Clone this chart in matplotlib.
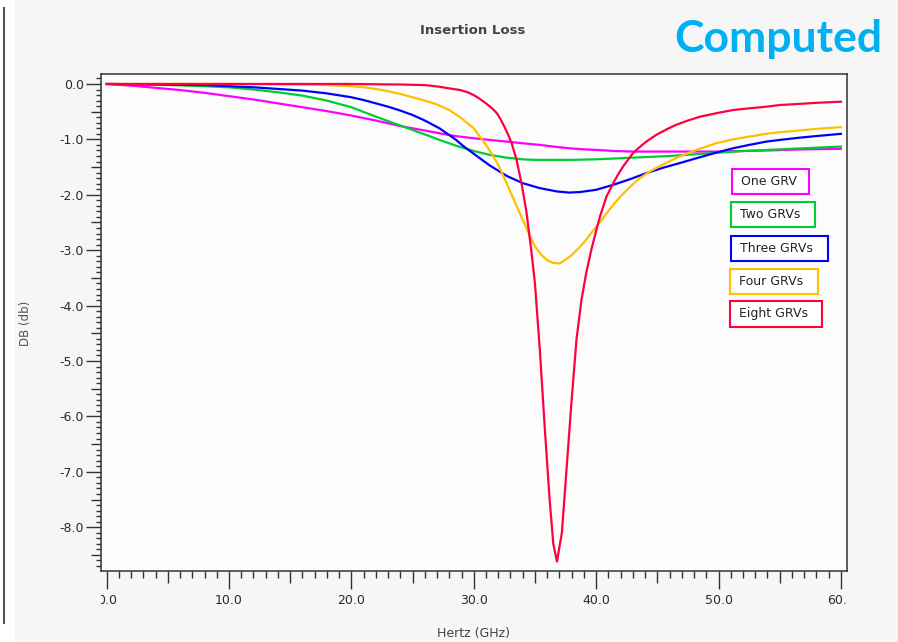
import numpy as np
import matplotlib.pyplot as plt
from matplotlib.ticker import FixedLocator, FormatStrFormatter
from matplotlib.patches import Rectangle
from matplotlib.lines import Line2D
import matplotlib.transforms as mtransforms

# Insertion loss (dB) versus frequency (GHz) for different GRV counts
one_x = [0, 2, 4, 6, 8, 10, 12, 14, 16, 18, 20, 22, 24, 26, 27.2, 28.5, 30, 31.3, 32.7,
         34, 35.4, 36.5, 37.8, 39, 40, 41.5, 43, 46, 50, 54, 57, 60]
one_y = [0, -0.03, -0.07, -0.11, -0.16, -0.22, -0.28, -0.35, -0.42, -0.49, -0.57, -0.66,
         -0.76, -0.84, -0.89, -0.94, -0.98, -1.01, -1.04, -1.07, -1.10, -1.13, -1.16,
         -1.18, -1.19, -1.21, -1.22, -1.22, -1.22, -1.20, -1.18, -1.17]

two_x = [0, 4, 8, 10, 12, 14, 16, 18, 20, 22, 24, 26, 27.2, 28.5, 30, 31.3, 32.7, 34,
         35, 36, 38, 40, 42, 44, 46, 48, 50, 52, 54, 56, 58, 60]
two_y = [0, -0.01, -0.04, -0.06, -0.10, -0.15, -0.21, -0.30, -0.42, -0.59, -0.75, -0.91,
         -1.01, -1.11, -1.21, -1.28, -1.33, -1.36, -1.37, -1.37, -1.37, -1.36, -1.34,
         -1.32, -1.30, -1.27, -1.24, -1.21, -1.19, -1.17, -1.15, -1.13]

three_x = [0, 4, 8, 10, 12, 14, 16, 18, 20, 21, 22, 23, 24, 25, 26, 27.2, 28.5, 29.2, 30,
           31.3, 32.7, 34, 35.4, 36.8, 37.8, 38.7, 40, 41.4, 42.75, 44.1, 45.5, 46.8,
           48.2, 49.8, 51.2, 52.5, 53.9, 55, 56.6, 58, 60]
three_y = [0, -0.01, -0.02, -0.04, -0.06, -0.09, -0.12, -0.17, -0.24, -0.29, -0.35, -0.41,
           -0.48, -0.56, -0.66, -0.80, -1.00, -1.13, -1.26, -1.47, -1.66, -1.79, -1.88,
           -1.94, -1.96, -1.95, -1.91, -1.82, -1.72, -1.61, -1.51, -1.43, -1.34, -1.24,
           -1.16, -1.10, -1.04, -1.01, -0.97, -0.94, -0.90]

four_x = [0, 10, 16, 18, 20, 21, 22, 23, 24, 25, 26, 27, 28, 29, 30, 31, 31.5, 32, 32.5,
          33, 33.5, 34, 34.5, 35, 35.5, 36, 36.5, 37, 37.5, 38, 38.5, 39, 39.5, 40, 40.7,
          41.4, 42, 42.75, 43.4, 44.1, 44.8, 45.5, 46.8, 48.2, 49.8, 51.2, 52.5, 53.9,
          55, 56.6, 58, 60]
four_y = [0, 0, -0.01, -0.02, -0.04, -0.06, -0.09, -0.13, -0.18, -0.24, -0.30, -0.37,
          -0.47, -0.62, -0.80, -1.10, -1.27, -1.46, -1.70, -1.95, -2.20, -2.45, -2.70,
          -2.93, -3.08, -3.18, -3.23, -3.24, -3.17, -3.09, -2.98, -2.86, -2.72, -2.58,
          -2.38, -2.18, -2.03, -1.86, -1.73, -1.62, -1.53, -1.45, -1.31, -1.19, -1.07,
          -1.00, -0.95, -0.90, -0.87, -0.84, -0.81, -0.78]

eight_x = [0, 10, 20, 24, 26, 27.2, 28, 28.9, 29.5, 30, 30.5, 31, 31.5, 31.9, 32.2, 32.5,
           32.8, 33.1, 33.5, 33.9, 34.3, 34.7, 35.0, 35.4, 35.8, 36.2, 36.5, 36.8, 37.2,
           37.6, 38.0, 38.4, 38.8, 39.2, 39.6, 40.0, 40.3, 40.6, 40.85, 41.4, 41.8, 42.2,
           42.6, 43.0, 43.5, 44.1, 44.9, 45.75, 46.5, 47.5, 48.5, 50, 51.2, 52.5, 53.9,
           55, 56.6, 58, 60]
eight_y = [0, 0, 0, -0.01, -0.02, -0.05, -0.08, -0.11, -0.15, -0.20, -0.27, -0.35, -0.44,
           -0.53, -0.64, -0.77, -0.91, -1.07, -1.37, -1.79, -2.30, -3.00, -3.60, -4.80,
           -6.20, -7.50, -8.30, -8.62, -8.10, -6.90, -5.70, -4.60, -3.90, -3.40, -3.00,
           -2.65, -2.40, -2.20, -2.03, -1.79, -1.63, -1.49, -1.37, -1.25, -1.15, -1.04,
           -0.92, -0.82, -0.74, -0.66, -0.59, -0.52, -0.47, -0.44, -0.41, -0.38, -0.36,
           -0.34, -0.32]

labels = ['One GRV', 'Two GRVs', 'Three GRVs', 'Four GRVs', 'Eight GRVs']
colors = ['#ff00ff', '#00cc33', '#0000ff', '#ffc000', '#ff0040']

W, H = 898, 642
def fx(px):
    return px / W
def fy(py):
    return 1 - py / H

fig = plt.figure(figsize=(8.98, 6.42), dpi=100, facecolor='white')
fig.patches.append(Rectangle((fx(15), 0), 1, 1, transform=fig.transFigure,
                             facecolor='#f6f6f6', edgecolor='none', zorder=-10))
fig.add_artist(Line2D([fx(3.5), fx(3.5)], [fy(8), fy(623)], color='#555555', lw=1.5))

ax = fig.add_axes([fx(101), fy(571), (847 - 101) / W, (571 - 74) / H])
ax.set_facecolor('#fcfcfc')

series = [(one_x, one_y), (two_x, two_y), (three_x, three_y), (four_x, four_y), (eight_x, eight_y)]
for (xs, ys), c in zip(series, colors):
    ax.plot(xs, ys, color=c, lw=1.6)

ax.set_xlim(-0.46, 60.5)
ax.set_ylim(-8.79, 0.18)

for sp in ax.spines.values():
    sp.set_color('#333333')
    sp.set_linewidth(1.1)

ax.xaxis.set_major_locator(FixedLocator(np.arange(0, 61, 10)))
ax.xaxis.set_minor_locator(FixedLocator(np.arange(0, 61, 1)))
ax.xaxis.set_major_formatter(FormatStrFormatter('%.1f'))
ax.yaxis.set_major_locator(FixedLocator(np.arange(0, -9, -1)))
ax.yaxis.set_minor_locator(FixedLocator(np.round(np.arange(0.1, -8.8, -0.1), 1)))
ax.yaxis.set_major_formatter(FormatStrFormatter('%.1f'))

ax.tick_params(axis='x', which='major', direction='out', length=12.7, width=1,
               color='#333333', labelcolor='#2a2a2a', labelsize=9, pad=4)
ax.tick_params(axis='x', which='minor', direction='out', length=4.8, width=1, color='#333333')
ax.tick_params(axis='y', which='major', direction='out', length=10.8, width=1,
               color='#333333', labelcolor='#2a2a2a', labelsize=9, pad=1.5)
ax.tick_params(axis='y', which='minor', direction='out', length=3.6, width=1, color='#333333')

# medium ticks at the half steps
xlocs = ax.xaxis.get_minorticklocs()
for t, loc in zip(ax.xaxis.get_minor_ticks(len(xlocs)), xlocs):
    if abs(loc % 5) < 1e-6:
        t.tick1line.set_markersize(8.4)
ylocs = ax.yaxis.get_minorticklocs()
for t, loc in zip(ax.yaxis.get_minor_ticks(len(ylocs)), ylocs):
    if abs(abs(loc) % 1 - 0.5) < 1e-6:
        t.tick1line.set_markersize(7.2)

# x tick labels are cut at the plot edges
clip = mtransforms.TransformedBbox(mtransforms.Bbox([[0, 0], [1, 1]]),
                                   mtransforms.blended_transform_factory(ax.transAxes, fig.transFigure))
for lab in ax.xaxis.get_majorticklabels():
    lab.set_clip_box(clip)
    lab.set_clip_on(True)

fig.text(fx(473), fy(31), 'Insertion Loss', ha='center', va='center', fontsize=9.5,
         fontweight='bold', color='#444444')
fig.text(fx(882), fy(39), 'Computed', ha='right', va='center', fontsize=32,
         fontweight='bold', color='#00b0f0', family='Lato')
fig.text(fx(25), fy(323), 'DB (db)', rotation=90, ha='center', va='center', fontsize=8.5,
         color='#555555')
fig.text(fx(474), fy(633), 'Hertz (GHz)', ha='center', va='center', fontsize=9,
         color='#444444')

# boxed series labels
boxes = [(732, 169, 809, 194), (731, 202, 815, 227), (731, 236, 828, 261),
         (730, 269, 818, 294), (730, 301, 822, 327)]
for (x0, y0, x1, y1), lab, c in zip(boxes, labels, colors):
    fig.patches.append(Rectangle((fx(x0), fy(y1)), (x1 - x0) / W, (y1 - y0) / H,
                                 transform=fig.transFigure, facecolor='white',
                                 edgecolor=c, lw=1.5, zorder=5))
    fig.text(fx(x0 + 9), fy((y0 + y1) / 2), lab, ha='left', va='center', fontsize=9,
             color='#222222', zorder=6)

fig.savefig('out.png', dpi=100, facecolor=fig.get_facecolor())
